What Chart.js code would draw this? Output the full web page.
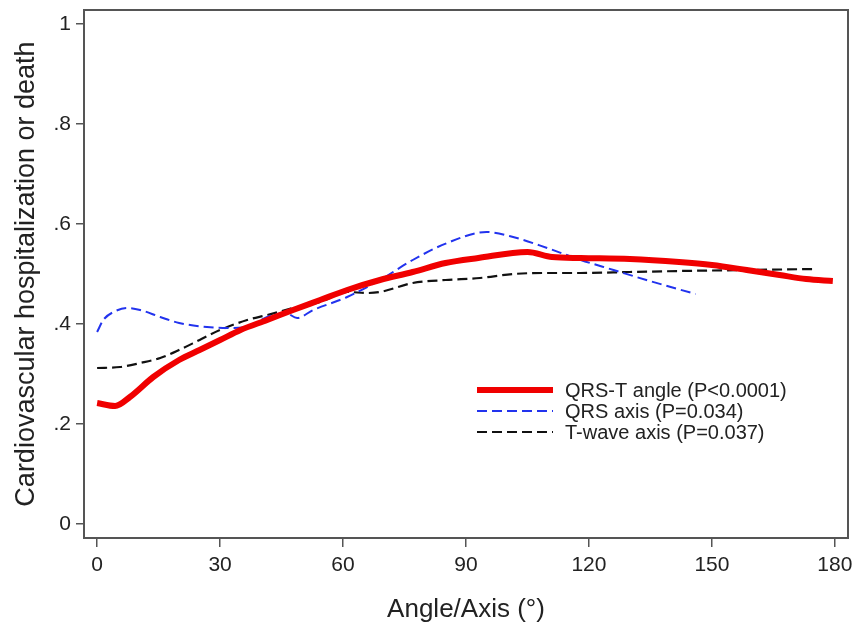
<!DOCTYPE html>
<html>
<head>
<meta charset="utf-8">
<script src="https://cdn.jsdelivr.net/npm/chart.js@4"></script>
<style>
  body { margin: 0; background: #fff; }
  #wrap { width: 859px; height: 629px; }
</style>
</head>
<body>
<div id="wrap"><canvas id="chartAngle"></canvas></div>
<script>
// values
const qrstX = [0, 4.4, 8, 13.7, 20, 25, 30, 35, 41.5, 47.8, 54.4, 61, 69, 77, 85, 93, 105, 111, 118, 130, 142, 150, 158.5, 166.5, 173, 179.5]
const qrstY = [.242, .236, .254, .294, .328, .348, .368, .388, .408, .428, .448, .468, .488, .504, .522, .532, .544, .534, .532, .530, .524, .518, .508, .498, .490, .486]

const qrsX = [0, 1.5, 4, 7.3, 10.5, 15.4, 20, 26.8, 31.7, 36.6, 41.5, 46, 48.8, 52.7, 61, 69, 77, 85.4, 95, 101.5, 109.8, 118, 126, 134, 146]
const qrsY = [.384, .408, .424, .432, .428, .414, .402, .394, .392, .394, .414, .422, .412, .428, .454, .488, .528, .562, .584, .574, .552, .528, .508, .488, .460]

const twaveX = [0, 5.6, 10.5, 15.4, 20, 25, 30, 36.6, 41.5, 47.8, 54.4, 61, 66, 69, 77, 85, 93.4, 101.5, 110, 118, 130, 142, 158.5, 175]
const twaveY = [.312, .314, .322, .332, .348, .368, .388, .408, .418, .432, .444, .464, .462, .464, .482, .488, .492, .500, .502, .502, .504, .506, .508, .510]

const seriesNames = ['QRS-T angle (P<0.0001)', 'QRS axis (P=0.034)', 'T-wave axis (P=0.037)']
const xTicks = [0, 30, 60, 90, 120, 150, 180]
const yTicks = [0, .2, .4, .6, .8, 1]

toPoints = function(xs, ys){
  return xs.map((x, i) => ({x: x, y: ys[i]}))
}

const frameColor = '#555'
const font = 'Arial, "Liberation Sans", sans-serif'

// box around the plot + legend inside it
const framePlugin = {
  id: 'frame',
  afterDatasetsDraw(chart) {
    const ctx = chart.ctx
    const a = chart.chartArea
    ctx.save()
    ctx.strokeStyle = frameColor
    ctx.lineWidth = 2
    ctx.strokeRect(a.left, a.top, a.right - a.left, a.bottom - a.top)

    const x0 = 477, x1 = 553, rows = [390, 411, 432]
    chart.data.datasets.forEach((ds, i) => {
      ctx.beginPath()
      ctx.setLineDash(ds.borderDash || [])
      ctx.strokeStyle = ds.borderColor
      ctx.lineWidth = ds.borderWidth
      ctx.moveTo(x0, rows[i])
      ctx.lineTo(x1, rows[i])
      ctx.stroke()
      ctx.setLineDash([])
      ctx.fillStyle = '#222'
      ctx.font = '20px ' + font
      ctx.textBaseline = 'middle'
      ctx.fillText(ds.label, 565, rows[i] + 1)
    })
    ctx.restore()
  }
}

const chartCfg = {
  type: 'line',
  data: {
    datasets: [{
      label: seriesNames[0],
      data: toPoints(qrstX, qrstY),
      borderColor: '#f00000',
      borderWidth: 6,
      pointRadius: 0,
      cubicInterpolationMode: 'monotone'
    }, {
      label: seriesNames[1],
      data: toPoints(qrsX, qrsY),
      borderColor: '#2233ee',
      borderWidth: 2,
      borderDash: [10, 5],
      pointRadius: 0,
      cubicInterpolationMode: 'monotone'
    }, {
      label: seriesNames[2],
      data: toPoints(twaveX, twaveY),
      borderColor: '#111',
      borderWidth: 2.2,
      borderDash: [10, 5],
      pointRadius: 0,
      cubicInterpolationMode: 'monotone'
    }]
  },
  options: {
    responsive: true,
    maintainAspectRatio: false,
    animation: false,
    layout: { padding: { top: 10, right: 11, left: 0, bottom: 0 } },
    plugins: {
      legend: { display: false },
      tooltip: { enabled: false }
    },
    scales: {
      x: {
        type: 'linear',
        min: -3.2,
        max: 183.2,
        afterBuildTicks: s => { s.ticks = xTicks.map(v => ({value: v})) },
        afterFit: s => { s.height = 91; s.paddingLeft = 0; s.paddingRight = 0 },
        grid: { display: true, drawOnChartArea: false, drawTicks: true, tickLength: 9, color: frameColor, lineWidth: 1.5 },
        border: { display: false },
        ticks: { color: '#222', font: { family: font, size: 21 }, padding: 6, maxRotation: 0 },
        title: { display: true, text: 'Angle/Axis (°)', color: '#222', font: { family: font, size: 26 }, padding: { top: 2 } }
      },
      y: {
        min: -0.028,
        max: 1.028,
        afterBuildTicks: s => { s.ticks = yTicks.map(v => ({value: v})) },
        afterFit: s => { s.width = 84; s.paddingTop = 0; s.paddingBottom = 0 },
        grid: { display: true, drawOnChartArea: false, drawTicks: true, tickLength: 8, color: frameColor, lineWidth: 1.5 },
        border: { display: false },
        ticks: {
          color: '#222',
          font: { family: font, size: 21 },
          padding: 5,
          callback: v => v === 0 ? '0' : v === 1 ? '1' : String(v).replace(/^0/, '')
        },
        title: { display: true, text: 'Cardiovascular hospitalization or death', color: '#222', font: { family: font, size: 27 }, padding: { top: 10, bottom: 0 } }
      }
    }
  },
  plugins: [framePlugin]
}

window.onload = () => {
  new Chart(document.getElementById('chartAngle'), chartCfg)
}
</script>
</body>
</html>
